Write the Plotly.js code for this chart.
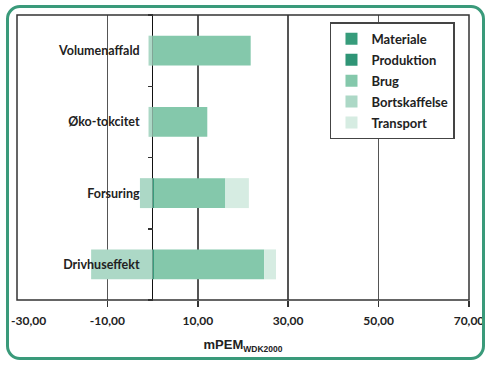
<!DOCTYPE html>
<html>
<head>
<meta charset="utf-8">
<script src="https://cdn.plot.ly/plotly-3.0.1.min.js"></script>
<style>
  html, body { margin: 0; padding: 0; background: #fff; }
  #wrap { position: relative; width: 490px; height: 365px; }
  #chart { position: absolute; left: 0; top: 0; width: 490px; height: 365px; }
  #frame { position: absolute; left: 6px; top: 5px; width: 473px; height: 349px;
           border: 3px solid #3a9a7a; border-radius: 14px; pointer-events: none; }
</style>
</head>
<body>
<div id="wrap">
  <div id="chart"></div>
  <div id="frame"></div>
</div>
<script>
// Categories (bottom to top)
const categories = ['Drivhuseffekt', 'Forsuring', 'Øko-tokcitet', 'Volumenaffald'];

// Series values (mPEM WDK2000)
const materiale     = [0, 0, 0, 0];
const produktion    = [0.3, 0.3, 0, 0];
const brug          = [24.4, 15.8, 12.1, 21.7];
const bortskaffelse = [-13.6, -2.8, -0.9, -0.9];
const transport     = [2.6, 5.2, 0, 0];

// Axis ticks (the first label is nudged inward as in the original)
const xTickVals = [-10, 10, 30, 50, 70];
const xTickText = ['-10,00', '10,00', '30,00', '50,00', '70,00'];
const xFirstTickVal = -30;
const xFirstTickText = '-30,00';

const seriesNames  = ['Materiale', 'Produktion', 'Brug', 'Bortskaffelse', 'Transport'];
const seriesValues = [materiale, produktion, brug, bortskaffelse, transport];
const seriesColors = ['#379c7b', '#2f9576', '#84c8ab', '#acd8c6', '#d6ece2'];

const FONT = 'Lato, Open Sans, DejaVu Sans, sans-serif';

const traces = seriesNames.map((name, i) => ({
  type: 'bar',
  orientation: 'h',
  name: name,
  legendgroup: 'g' + i,
  y: categories,
  x: seriesValues[i],
  marker: { color: seriesColors[i], line: { width: 0 } },
  width: 0.42,
  hoverinfo: 'x+name'
}));

const tickFont = { family: FONT, size: 12, color: '#222', weight: 700 };

const layout = {
  width: 490,
  height: 365,
  margin: { l: 17, r: 21, t: 15, b: 65 },
  paper_bgcolor: '#ffffff',
  plot_bgcolor: '#ffffff',
  barmode: 'relative',
  font: { family: FONT, color: '#222', size: 12 },
  showlegend: true,
  legend: {
    x: 0.969, y: 0.974, xanchor: 'right', yanchor: 'top',
    traceorder: 'grouped',
    tracegroupgap: 1,
    bgcolor: '#ffffff',
    bordercolor: '#444',
    borderwidth: 1.5,
    font: { family: FONT, size: 13, color: '#222', weight: 700 },
    itemwidth: 30
  },
  xaxis: {
    range: [-30, 70],
    tickvals: xTickVals,
    ticktext: xTickText,
    ticks: 'outside',
    ticklen: 6,
    tickwidth: 1.5,
    tickcolor: '#333',
    ticklabelstandoff: 4,
    tickfont: tickFont,
    showgrid: true,
    gridcolor: '#555',
    gridwidth: 1.5,
    zeroline: true,
    zerolinecolor: '#111',
    zerolinewidth: 1,
    showline: false,
    title: {
      text: 'mPEM<sub><span style="font-size:8.5px">WDK2000</span></sub>',
      font: { family: 'Liberation Sans, Arial, sans-serif', size: 13, color: '#222', weight: 700 },
      standoff: 12
    },
    fixedrange: true
  },
  yaxis: {
    type: 'category',
    range: [-0.5, 3.5],
    anchor: 'free',
    position: 0.3,
    side: 'left',
    ticks: 'outside',
    tickson: 'boundaries',
    ticklen: 5,
    tickwidth: 1.5,
    tickcolor: '#333',
    ticklabelstandoff: 13,
    tickfont: { family: FONT, size: 12.5, color: '#222', weight: 700 },
    showgrid: false,
    zeroline: false,
    showline: false,
    fixedrange: true
  },
  annotations: [
    {
      x: xFirstTickVal, xref: 'x', y: 0, yref: 'paper',
      text: xFirstTickText, showarrow: false,
      xanchor: 'center', yanchor: 'middle',
      xshift: 11, yshift: -20,
      font: tickFont
    }
  ],
  shapes: [
    {
      type: 'rect', xref: 'paper', yref: 'paper',
      x0: 0, x1: 1, y0: 0, y1: 1,
      line: { color: '#333', width: 1.5 },
      fillcolor: 'rgba(0,0,0,0)',
      layer: 'above'
    }
  ]
};

Plotly.newPlot('chart', traces, layout, { displayModeBar: false, staticPlot: true });
</script>
</body>
</html>
